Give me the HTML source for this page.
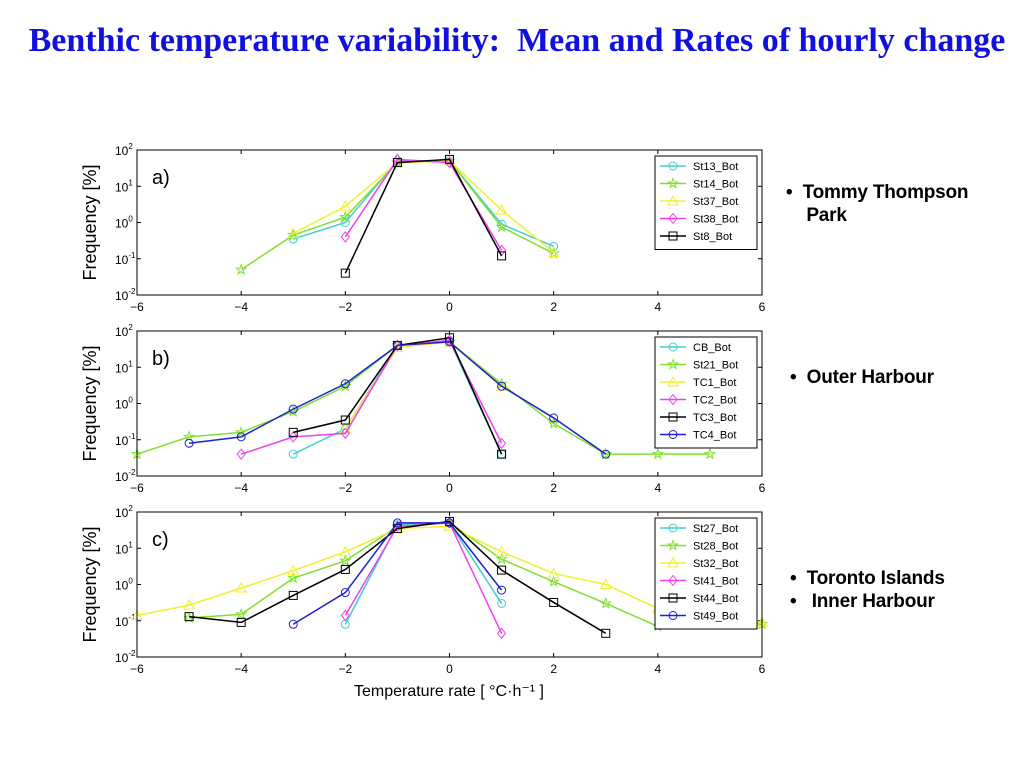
<!DOCTYPE html>
<html><head><meta charset="utf-8">
<style>
body{margin:0;width:1024px;height:768px;background:#fff;overflow:hidden;position:relative;font-family:"Liberation Sans","DejaVu Sans",sans-serif}
#t{position:absolute;left:0;width:1034px;top:22px;text-align:center;font-family:"Liberation Serif",serif;font-weight:bold;font-size:34px;color:#1010e0;white-space:nowrap;letter-spacing:0px}
.b{position:absolute;font-weight:bold;font-size:19px;color:#000;line-height:23px;letter-spacing:-0.2px;white-space:nowrap}
</style></head><body>
<div id="t">Benthic temperature variability:&nbsp; Mean and Rates of hourly change</div>
<div class="b" style="left:786px;top:181px">•&nbsp; Tommy Thompson<br>&nbsp;&nbsp;&nbsp;&nbsp;Park</div>
<div class="b" style="left:790px;top:366px">•&nbsp; Outer Harbour</div>
<div class="b" style="left:790px;top:567px">•&nbsp; Toronto Islands<br>•&nbsp;&nbsp; Inner Harbour</div>
<svg id="s" width="1024" height="768" style="position:absolute;left:0;top:0"></svg>
<script>
const NS="http://www.w3.org/2000/svg";const S=document.getElementById('s');
function el(t,a,txt){const e=document.createElementNS(NS,t);for(const k in a)e.setAttribute(k,a[k]);if(txt!==undefined)e.textContent=txt;S.appendChild(e);return e;}
const X0=137,X1=762;const fx=v=>X0+(v+6)*(X1-X0)/12;
const C={c:'#40d0d0',g:'#80e030',y:'#f0f030',m:'#f040f0',k:'#000',b:'#2020d0'};
function mark(x,y,m,col){
 const st={fill:'none',stroke:col,'stroke-width':1};
 if(m=='o')el('circle',Object.assign({cx:x,cy:y,r:4},st));
 else if(m=='s')el('rect',Object.assign({x:x-4,y:y-4,width:8,height:8},st));
 else if(m=='^')el('polygon',Object.assign({points:`${x},${y-5} ${x-5},${y+4} ${x+5},${y+4}`},st));
 else if(m=='d')el('polygon',Object.assign({points:`${x},${y-5} ${x-4},${y} ${x},${y+5} ${x+4},${y}`},st));
 else if(m=='*'){let p='';for(let i=0;i<10;i++){const r=i%2?2:5,a=-Math.PI/2+i*Math.PI/5;p+=`${x+r*Math.cos(a)},${y+r*Math.sin(a)} `;}el('polygon',Object.assign({points:p},st));}
}
function panel(top,lab,series,lb){
 const bot=top+145;const fy=v=>top+(2-Math.log10(v))*(bot-top)/4;
 for(let v=-6;v<=6;v+=2){const x=fx(v);el('line',{x1:x,y1:bot,x2:x,y2:bot-4,stroke:'#000'});el('line',{x1:x,y1:top,x2:x,y2:top+4,stroke:'#000'});
  el('text',{x:x,y:bot+16,'text-anchor':'middle','font-size':12},(v<0?'−':'')+Math.abs(v));}
 for(let e=-2;e<=2;e++){const y=top+(2-e)*(bot-top)/4;el('line',{x1:X0,y1:y,x2:X0+4,y2:y,stroke:'#000'});el('line',{x1:X1,y1:y,x2:X1-4,y2:y,stroke:'#000'});
  const t=el('text',{x:X0-22,y:y+5,'font-size':12},'10');const s=document.createElementNS(NS,'tspan');s.setAttribute('dy','-6');s.setAttribute('font-size','8');s.textContent=e;t.appendChild(s);}
 el('text',{x:0,y:0,transform:`translate(96,${(top+bot)/2}) rotate(-90)`,'text-anchor':'middle','font-size':18},'Frequency [%]');
 el('text',{x:152,y:top+34,'font-size':20},lab);
 for(const s of series){const pts=s.d.map(p=>[fx(p[0]),fy(p[1])]);
  el('polyline',{points:pts.map(p=>p.join(',')).join(' '),fill:'none',stroke:C[s.c],'stroke-width':1.5});
  pts.forEach(p=>mark(p[0],p[1],s.m,C[s.c]));}
 el('rect',{x:X0,y:top,width:X1-X0,height:bot-top,fill:'none',stroke:'#000'});
 const lh=17.5,ly=top+6;el('rect',{x:655,y:ly,width:102,height:series.length*lh+6,fill:'#fff',stroke:'#000'});
 series.forEach((s,i)=>{const y=ly+10+i*lh;el('line',{x1:660,y1:y,x2:686,y2:y,stroke:C[s.c],'stroke-width':1.5});mark(673,y,s.m,C[s.c]);
  el('text',{x:693,y:y+4,'font-size':11},lb[i]);});
}
panel(150,'a)',[
{c:'c',m:'o',d:[[-3,.35],[-2,1],[-1,50],[0,50],[1,.9],[2,.22]]},
{c:'g',m:'*',d:[[-4,.05],[-3,.45],[-2,1.4],[-1,45],[0,50],[1,.75],[2,.14]]},
{c:'y',m:'^',d:[[-3,.5],[-2,2.8],[-1,45],[0,50],[1,2.2],[2,.15]]},
{c:'m',m:'d',d:[[-2,.4],[-1,55],[0,45],[1,.17]]},
{c:'k',m:'s',d:[[-2,.04],[-1,45],[0,55],[1,.12]]}],['St13_Bot','St14_Bot','St37_Bot','St38_Bot','St8_Bot']);
panel(331,'b)',[
{c:'c',m:'o',d:[[-3,.04],[-2,.2],[-1,40],[0,55],[1,.04]]},
{c:'g',m:'*',d:[[-6,.04],[-5,.12],[-4,.16],[-3,.6],[-2,3],[-1,40],[0,50],[1,3.5],[2,.28],[3,.04],[4,.04],[5,.04]]},
{c:'y',m:'^',d:[[-2,.2],[-1,35],[0,50],[1,3]]},
{c:'m',m:'d',d:[[-4,.04],[-3,.12],[-2,.15],[-1,40],[0,55],[1,.08]]},
{c:'k',m:'s',d:[[-3,.16],[-2,.35],[-1,40],[0,65],[1,.04]]},
{c:'b',m:'o',d:[[-5,.08],[-4,.12],[-3,.7],[-2,3.5],[-1,40],[0,50],[1,3],[2,.4],[3,.04]]}],['CB_Bot','St21_Bot','TC1_Bot','TC2_Bot','TC3_Bot','TC4_Bot']);
panel(512,'c)',[
{c:'c',m:'o',d:[[-2,.08],[-1,45],[0,50],[1,.3]]},
{c:'g',m:'*',d:[[-5,.12],[-4,.15],[-3,1.5],[-2,4.5],[-1,40],[0,50],[1,5],[2,1.2],[3,.3],[4,.07],[6,.08]]},
{c:'y',m:'^',d:[[-6,.14],[-5,.27],[-4,.8],[-3,2.4],[-2,8],[-1,35],[0,40],[1,8],[2,2],[3,1],[4,.22],[6,.09]]},
{c:'m',m:'d',d:[[-2,.14],[-1,40],[0,50],[1,.045]]},
{c:'k',m:'s',d:[[-5,.13],[-4,.09],[-3,.5],[-2,2.6],[-1,35],[0,55],[1,2.5],[2,.32],[3,.045]]},
{c:'b',m:'o',d:[[-3,.08],[-2,.6],[-1,50],[0,50],[1,.7]]}],['St27_Bot','St28_Bot','St32_Bot','St41_Bot','St44_Bot','St49_Bot']);
el('text',{x:449,y:696,'text-anchor':'middle','font-size':16},'Temperature rate [ °C·h⁻¹ ]');
</script>
</body></html>
